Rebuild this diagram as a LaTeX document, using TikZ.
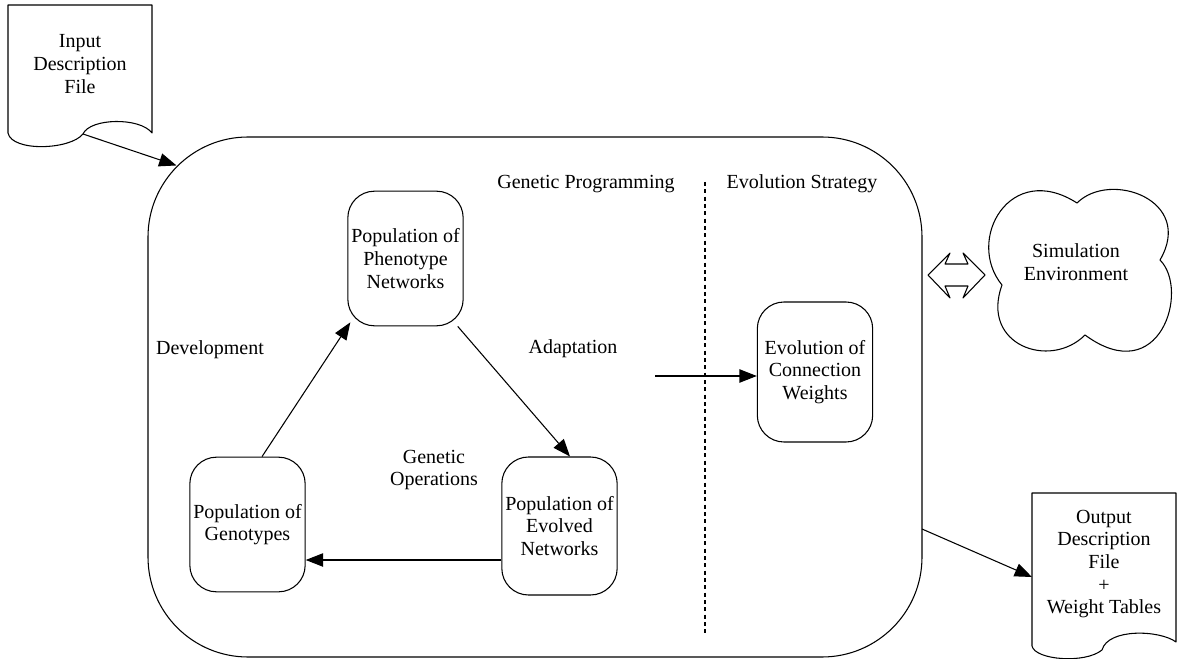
\documentclass[tikz,border=0pt]{standalone}
\usepackage{fontspec}
\setmainfont{Liberation Serif}
\usetikzlibrary{arrows.meta,calc}
\begin{document}
\begin{tikzpicture}[x=0.75pt,y=-0.75pt,
  every node/.style={font=\fontsize{15}{17}\selectfont},
  shape line/.style={line width=0.8pt, line join=round},
  rbox/.style={shape line, draw, rounded corners=20pt, align=center, inner sep=0pt,
    minimum width=86.5pt, minimum height=101pt},
  flow/.style={line width=0.8pt, -{Triangle[length=13pt,width=10pt]}},
  lbl/.style={align=center, inner sep=1pt}]
\useasboundingbox (0,0) rectangle (1178,659);

% main frame
\node[shape line, draw, rounded corners=75pt, inner sep=0pt,
      minimum width=580.5pt, minimum height=390pt] (core) at (535,397) {};

% section titles and divider
\node[lbl] (gp) at (586,184) {Genetic Programming};
\node[lbl] (es) at (802,184) {Evolution Strategy};
\draw[line width=0.8pt, dash pattern=on 3pt off 2.5pt] (705,182) -- (705,636);

% population boxes
\node[rbox] (pheno) at (405.5,258.5) {Population of\\Phenotype\\Networks};
\node[rbox, minimum height=103.5pt] (evol) at (559.5,526) {Population of\\Evolved\\Networks};
\node[rbox] (geno) at (247.5,524.5) {Population of\\Genotypes};
\node[rbox, minimum height=105pt] (weights) at (815,372) {Evolution of\\Connection\\Weights};

% cycle inside the genetic programming part
\draw[flow] ($(geno.north)+(14.5,0)$) -- ($(pheno.south west)+(3,-4)$);
\draw[flow] ($(pheno.south east)+(-6,0)$) -- ($(evol.north)+(10.5,0)$);
\draw[flow] ($(evol.west)+(0,34)$) -- ($(geno.east)+(0,35.5)$);
\node[lbl] (dev) at (210,350) {Development};
\node[lbl] (adapt) at (573,349) {Adaptation};
\node[lbl] (genop) at (434,470) {Genetic\\Operations};

% hand-over to the evolution strategy
\coordinate (adstart) at (655,376);
\draw[flow] (adstart) -- (adstart -| weights.west);

% input document
\draw[shape line] (8,133) -- (8,5) -- (152,5) -- (152,133)
  .. controls (140,117) and (90,118) .. (83,134)
  .. controls (70,150) and (12,152) .. (8,133) -- cycle;
\node[lbl] (infile) at (80,64) {Input\\Description\\File};
\coordinate (inbot) at (83,134);
\draw[flow] (inbot) -- ($(core.north west)+(29,29)$);

% output document
\draw[shape line] (1032,646) -- (1032,493) -- (1176,493) -- (1176,642)
  .. controls (1160,630) and (1108,628) .. (1102,650)
  .. controls (1085,664) and (1035,660) .. (1032,646) -- cycle;
\node[lbl] (outfile) at (1104,564) {Output\\Description\\File\\+\\Weight Tables};
\coordinate (outstart) at (922,529);
\draw[flow] (outstart) -- (1032,577);

% simulation environment cloud
\draw[shape line] (1002,285)
  .. controls (965,240) and (1010,160) .. (1077,203)
  .. controls (1110,170) and (1195,200) .. (1160,260)
  .. controls (1190,290) and (1160,390) .. (1085,335)
  .. controls (1050,370) and (980,345) .. (1002,285) -- cycle;
\node[lbl] (sim) at (1076,262) {Simulation\\Environment};

% two-way exchange arrow
\draw[shape line] (928,275) -- (950,253) -- (945,264) -- (968,264) -- (963,253)
  -- (985,275) -- (963,298) -- (968,286) -- (945,286) -- (950,298) -- cycle;
\end{tikzpicture}
\end{document}
